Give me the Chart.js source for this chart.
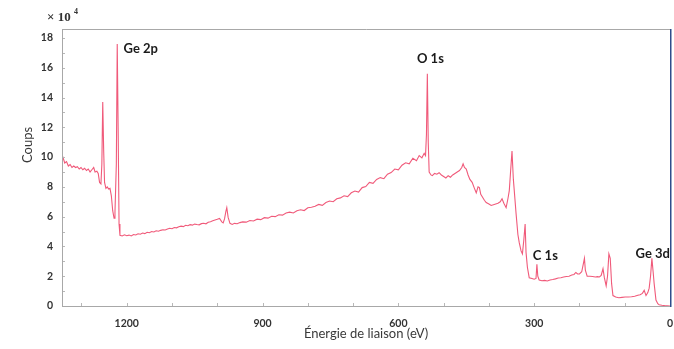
<!DOCTYPE html>
<html><head><meta charset="utf-8">
<script src="https://cdn.jsdelivr.net/npm/chart.js@4"></script>
<style>html,body{margin:0;padding:0;background:#fff;}#wrap{width:674px;height:349px;}</style>
</head><body><div id="wrap"><canvas id="c" width="674" height="349"></canvas></div>
<script>
// Binding energy (eV) and counts (x 10^4)
const energies = [
1345,1341,1337,1333,1329,1325,1321,1317,1313,1309,1305,1301,1297,1293,1289,1285,1281,1277,1273,1270,
1266,1263,1260,1257,1255,1253,1251,1249,1246,1243,1240,1237,1234,1231,1228,1226,1223,1221,1219,1217,
1215,1210,1205,1200,1195,1190,1185,1180,1175,1170,1165,1160,1155,1150,1145,1140,1135,1130,1125,1120,
1115,1110,1105,1100,1095,1090,1085,1080,1075,1070,1065,1060,1055,1050,1045,1040,1035,1030,1025,1020,
1015,1010,1005,1000,995,990,987,984,981,979,976,972,967,962,956,950,944,936,928,920,
912,904,896,888,880,872,864,856,848,840,832,824,816,808,800,792,784,776,768,760,
752,744,736,728,720,712,704,696,688,680,672,664,656,648,640,632,624,616,608,600,
592,584,576,568,560,554,548,543,540,538,536,534,532,528,525,520,515,510,505,500,
495,490,485,480,475,470,465,460,457,454,450,446,442,437,432,428,424,421,418,414,
410,406,400,395,390,385,380,375,371,367,362,358,355,352,349,346,344,340,336,333,
329,326,323,320,318,315,311,305,300,296,294,292,289,283,277,271,265,259,253,247,
241,235,229,223,217,212,208,204,200,195,191,189,187,183,177,171,165,160,156,152,
148,145,141,138,135,132,129,126,120,113,106,99,92,85,78,71,66,61,57,53,
49,46,43,40,37,35,31,27,24,18,12,6,0
];
const counts = [
9.9,10.0,9.6,9.7,9.4,9.5,9.3,9.4,9.3,9.35,9.2,9.3,9.15,9.25,9.1,9.2,9.0,9.15,9.3,9.0,
9.05,8.9,8.3,8.2,9.5,13.7,10.5,8.3,7.9,8.0,7.85,7.9,7.4,6.4,5.9,6.3,9.5,17.6,12.0,5.5,
4.75,4.7,4.78,4.72,4.76,4.7,4.8,4.77,4.85,4.82,4.9,4.86,4.95,4.92,5.0,4.97,5.05,5.02,5.08,5.12,
5.1,5.17,5.22,5.19,5.27,5.25,5.32,5.36,5.33,5.42,5.39,5.46,5.43,5.5,5.47,5.45,5.53,5.56,5.52,5.62,
5.66,5.72,5.77,5.82,5.88,5.65,5.58,5.85,6.35,6.6,5.95,5.55,5.48,5.55,5.52,5.6,5.65,5.63,5.74,5.71,
5.83,5.8,5.93,5.9,6.03,6.0,6.13,6.1,6.24,6.3,6.25,6.4,6.46,6.41,6.6,6.63,6.7,6.82,6.76,6.95,
7.05,7.0,7.2,7.26,7.4,7.35,7.6,7.72,7.65,7.95,8.02,8.3,8.24,8.5,8.62,8.55,8.85,8.96,9.2,9.14,
9.45,9.62,9.55,9.92,9.76,10.1,9.95,10.25,10.1,11.5,15.6,11.0,9.0,8.8,8.75,8.9,8.85,8.95,8.8,8.7,
8.6,8.75,8.65,8.8,8.9,9.0,9.1,9.3,9.55,9.3,9.2,8.8,8.5,8.3,7.9,7.6,8.0,7.95,7.5,7.3,
7.1,6.95,6.85,6.75,6.8,6.85,6.9,7.0,7.2,6.9,6.6,7.2,7.75,9.1,10.4,8.5,7.75,6.2,4.8,4.25,
3.7,3.5,4.4,5.5,3.6,2.6,1.9,1.85,1.8,1.85,2.8,2.0,1.75,1.7,1.72,1.68,1.75,1.78,1.82,1.88,
1.9,1.95,1.98,2.0,2.08,2.12,2.25,2.15,2.15,2.3,2.9,3.2,2.4,2.0,2.0,1.98,1.95,1.97,1.95,2.05,
2.5,1.9,1.35,2.0,3.5,3.2,1.5,0.7,0.6,0.55,0.58,0.6,0.6,0.62,0.65,0.72,0.75,0.85,1.05,0.7,
0.9,1.2,2.0,3.2,2.2,1.5,0.4,0.15,0.08,0.05,0.03,0.02,0.0
];
const xTickValues = [1200, 900, 600, 300, 0];
const yTickValues = [0, 2, 4, 6, 8, 10, 12, 14, 16, 18];
const peakLabels = ['Ge 2p', 'O 1s', 'C 1s', 'Ge 3d'];
const peakLabelEnergies = [1207, 559, 303, 76];
const peakLabelCounts = [17.3, 16.6, 3.4, 3.5];

const framePlugin = {
  id: 'frame',
  afterDatasetsDraw(chart) {
    const ctx = chart.ctx, a = chart.chartArea;
    const xs = chart.scales.x, ys = chart.scales.y;
    ctx.save();
    ctx.strokeStyle = '#b8b8b8'; ctx.lineWidth = 1;
    ctx.beginPath();
    for (let v = 0; v <= 1300; v += 100) {
      const px = Math.round(xs.getPixelForValue(v)) + 0.5;
      ctx.moveTo(px, a.bottom); ctx.lineTo(px, a.bottom - 3);
    }
    for (let v = 0; v <= 18; v += 1) {
      const py = Math.round(ys.getPixelForValue(v)) + 0.5;
      ctx.moveTo(a.left, py); ctx.lineTo(a.left + 3, py);
    }
    ctx.stroke();
    ctx.strokeStyle = '#a8a8a8';
    ctx.beginPath();
    ctx.moveTo(a.left + 0.5, a.top + 0.5); ctx.lineTo(a.right, a.top + 0.5);
    ctx.moveTo(a.left + 0.5, a.top); ctx.lineTo(a.left + 0.5, a.bottom + 0.5);
    ctx.moveTo(a.left, a.bottom + 0.5); ctx.lineTo(a.right, a.bottom + 0.5);
    ctx.stroke();
    ctx.strokeStyle = '#2e4c8c'; ctx.lineWidth = 1.5;
    ctx.beginPath(); ctx.moveTo(a.right + 0.75, a.top); ctx.lineTo(a.right + 0.75, a.bottom + 1); ctx.stroke();
    ctx.fillStyle = '#1a1a1a';
    ctx.font = 'bold 13px Lato';
    ctx.textBaseline = 'middle'; ctx.textAlign = 'left';
    peakLabels.forEach((t, i) => {
      ctx.fillText(t, xs.getPixelForValue(peakLabelEnergies[i]), ys.getPixelForValue(peakLabelCounts[i]));
    });
    ctx.save();
    ctx.translate(28, 145); ctx.rotate(-Math.PI / 2);
    ctx.textAlign = 'center'; ctx.fillStyle = '#3a3a3a'; ctx.font = '13px Lato';
    ctx.fillText('Coups', 0, 0);
    ctx.restore();
    ctx.fillStyle = '#333';
    ctx.font = 'bold 13px "Liberation Serif"';
    ctx.textAlign = 'left'; ctx.textBaseline = 'alphabetic';
    ctx.fillText('\u00d7 10', 47, 21);
    ctx.font = 'bold 8px "Liberation Serif"';
    ctx.fillText('4', 74, 14);
    ctx.restore();
  }
};

new Chart(document.getElementById('c'), {
  type: 'line',
  data: { datasets: [{
    data: energies.map((e, i) => ({ x: e, y: counts[i] })),
    borderColor: '#f05a7a', borderWidth: 1.1, pointRadius: 0, tension: 0, fill: false
  }]},
  options: {
    responsive: false, animation: false, devicePixelRatio: 1,
    layout: { padding: { top: 29, right: 4, left: 0, bottom: 0 } },
    plugins: { legend: { display: false }, tooltip: { enabled: false } },
    scales: {
      x: {
        type: 'linear', reverse: true, min: 0, max: 1343,
        grid: { display: false, drawTicks: false, tickLength: 0 }, border: { display: false },
        afterBuildTicks: s => { s.ticks = xTickValues.map(v => ({ value: v })); },
        afterFit: s => { s.height = 43; s.paddingLeft = 0; s.paddingRight = 0; },
        ticks: { font: { family: 'Lato', weight: 'bold', size: 10.5 }, color: '#333', padding: 11,
                 maxRotation: 0, autoSkip: false, callback: v => String(v) },
        title: { display: true, text: 'Énergie de liaison (eV)', font: { family: 'Lato', size: 13 },
                 color: '#3a3a3a', padding: { top: 0, bottom: 7 } }
      },
      y: {
        type: 'linear', min: 0, max: 18.6,
        grid: { display: false, drawTicks: false, tickLength: 0 }, border: { display: false },
        afterBuildTicks: s => { s.ticks = yTickValues.map(v => ({ value: v })); },
        afterFit: s => { s.width = 62; s.paddingTop = 0; s.paddingBottom = 0; },
        ticks: { font: { family: 'Lato', weight: 'bold', size: 10.5 }, color: '#333', padding: 9,
                 callback: v => String(v) },
        title: { display: false }
      }
    }
  },
  plugins: [framePlugin]
});
</script>
</body></html>
